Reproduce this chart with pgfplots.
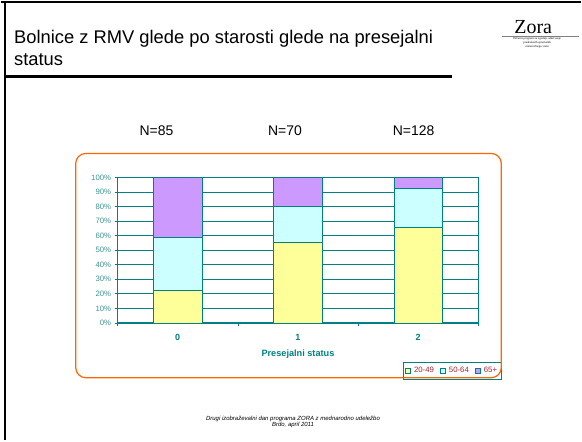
\documentclass[border=0pt]{standalone}
\usepackage{fontspec}
\setmainfont{Liberation Sans}
\newfontfamily\zoraserif{Liberation Serif}
\usepackage{pgfplots}
\pgfplotsset{compat=1.18}
\definecolor{teal1}{RGB}{0,128,128}
\definecolor{ticklab}{RGB}{60,150,150}
\definecolor{c1}{RGB}{255,255,153}
\definecolor{c2}{RGB}{204,255,255}
\definecolor{c3}{RGB}{204,153,255}
\definecolor{orng}{RGB}{255,102,0}
\definecolor{legtxt}{RGB}{160,40,50}
\pgfplotsset{sqlegend/.style={legend image code/.code={\draw[##1,draw=teal1,line width=0.6pt] (0pt,-2.8pt) rectangle (5.5pt,2.8pt);}}}
\begin{document}
\begin{tikzpicture}[x=1pt,y=1pt]
\fill[white] (0,0) rectangle (582,441);
\draw[line width=2pt] (0,440) -- (582,440);
\draw[line width=2pt] (4,0) -- (4,441);
\draw[line width=3pt] (3,365) -- (453,365);
\node[anchor=base west, font=\fontsize{18.4}{22}\selectfont, inner sep=0] at (13,398) {Bolnice z RMV glede po starosti glede na presejalni};
\node[anchor=base west, font=\fontsize{18.4}{22}\selectfont, inner sep=0] at (13,376) {status};
% logo
\node[font=\zoraserif\fontsize{20}{20}\selectfont, anchor=base, inner sep=0] at (534,408) {Zora};
\draw[gray, line width=0.4pt] (503,406) -- (580,406);
\node[font=\zoraserif\fontsize{3}{3.6}\selectfont, align=center, inner sep=0] at (538,399) {Državni program za zgodnje odkrivanje\\predrakavih sprememb\\materničnega vratu};
% N labels
\node[font=\fontsize{14}{16}\selectfont, anchor=base, inner sep=0] at (156,306) {N=85};
\node[font=\fontsize{14}{16}\selectfont, anchor=base, inner sep=0] at (285,306) {N=70};
\node[font=\fontsize{14}{16}\selectfont, anchor=base, inner sep=0] at (414,306) {N=128};
\begin{axis}[
  at={(117pt,118pt)}, anchor=south west,
  scale only axis, width=362pt, height=146pt,
  ybar stacked, bar width=49pt,
  xmin=-0.5, xmax=2.5, ymin=0, ymax=100,
  xtick={-0.5,0.5,1.5,2.5}, xticklabels={},
  extra x ticks={0,1,2}, extra x tick labels={0,1,2},
  extra x tick style={major tick length=0pt, tick label style={font=\bfseries\fontsize{9}{10}\selectfont, text=teal1, yshift=-8pt}},
  ytick={0,10,...,100},
  yticklabel={\pgfmathprintnumber{\tick}\%},
  /pgf/number format/assume math mode=true,
  tick align=outside, major tick length=3pt, tick pos=left,
  tick style={teal1, line width=0.6pt},
  y tick label style={font=\fontsize{7.8}{9}\selectfont, text=ticklab},
  ymajorgrids, grid style={teal1, line width=0.6pt},
  axis line style={teal1, line width=0.8pt},
  xlabel={Presejalni status},
  xlabel style={at={(axis description cs:0.5,-0.233)}, anchor=base, font=\bfseries\fontsize{9.2}{10}\selectfont, text=teal1},
  legend columns=3,
  legend style={at={(1.0635,-0.39)}, anchor=south east, draw=teal1, fill=white,
    font=\fontsize{7.8}{9}\selectfont, text=legtxt, inner xsep=2pt, inner ysep=3pt,
    /tikz/every odd column/.append style={column sep=1pt},
    /tikz/every even column/.append style={column sep=4pt}},
]
\addplot[fill=c1, draw=teal1, line width=0.6pt, sqlegend] coordinates {(0,22.35) (1,55.71) (2,65.63)};
\addplot[fill=c2, draw=teal1, line width=0.6pt, sqlegend] coordinates {(0,36.47) (1,24.29) (2,26.56)};
\addplot[fill=c3, draw=teal1, line width=0.6pt, sqlegend] coordinates {(0,41.18) (1,20.00) (2,7.81)};
\legend{20-49,50-64,65+}
\end{axis}
\draw[orng, line width=1.2pt, rounded corners=10pt] (75,63) rectangle (502,288);
\node[font=\itshape\fontsize{6}{6.5}\selectfont, align=center, anchor=base, inner sep=0] at (293,14) {Drugi izobraževalni dan programa ZORA z mednarodno udeležbo\\Brdo, april 2011};
\end{tikzpicture}
\end{document}
